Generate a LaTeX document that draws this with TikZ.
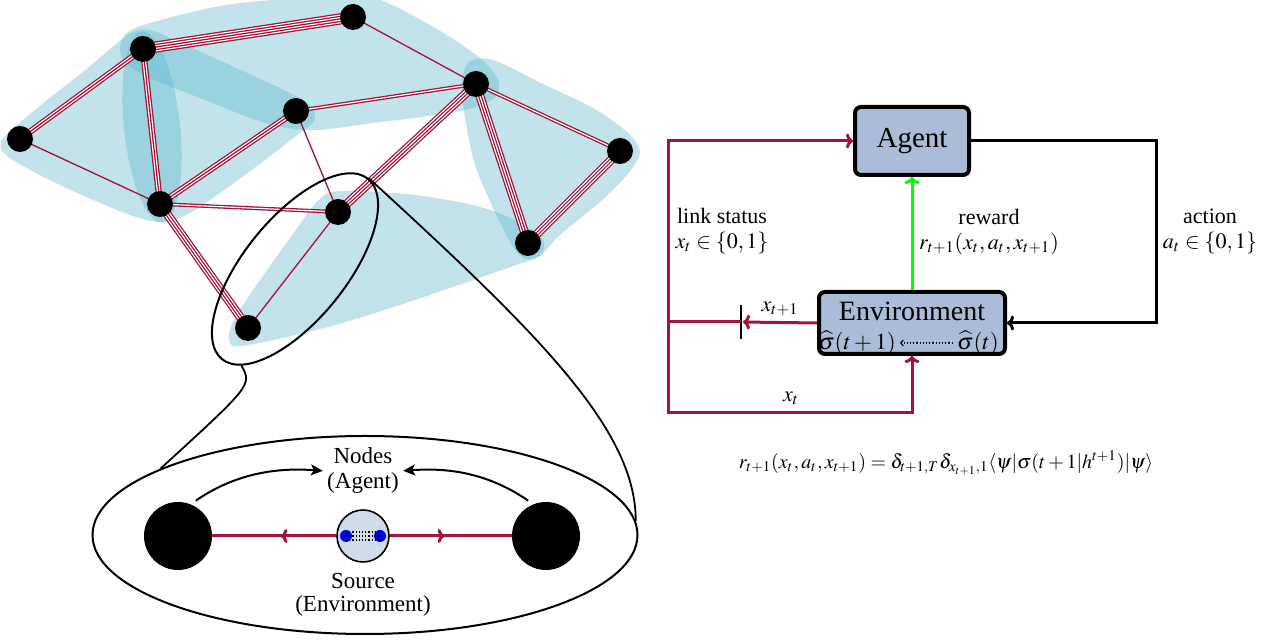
\documentclass[tikz,border=0pt]{standalone}
\usepackage{mathptmx}
\usepackage[no-math]{fontspec}
\setmainfont{Liberation Serif}
\usetikzlibrary{arrows.meta,shapes.geometric,backgrounds,decorations.markings,calc}
\definecolor{linkred}{RGB}{163,20,58}
\definecolor{hyperblue}{RGB}{86,180,202}
\definecolor{boxblue}{RGB}{170,188,215}
\definecolor{srcfill}{RGB}{208,219,234}
\def\linkr{0.65}
\def\linkg{0.6}
% n parallel red strands between two nodes
\newcommand\qlink[3]{%
  \pgfmathsetmacro\lfull{#1*\linkr+(#1-1)*\linkg}%
  \pgfmathtruncatemacro\llast{#1-1}%
  \foreach \i in {0,...,\llast} {%
    \pgfmathsetmacro\lw{\lfull-2*\linkr*ceil(\i/2)-2*\linkg*floor(\i/2)}%
    \ifodd\i \def\lcol{white}\else\def\lcol{linkred}\fi
    \draw[draw=\lcol,line width=\lw pt] (#2.center) -- (#3.center);
  }}
\tikzset{
  qnode/.style={circle,fill=black,minimum size=13pt,inner sep=0pt},
  hyper/.style={fill=hyperblue,fill opacity=0.36},
  rlbox/.style={draw,line width=2pt,rounded corners=3pt,fill=boxblue,inner sep=0pt},
  redflow/.style={color=linkred,line width=1.5pt},
  flowtip/.style={-{To[length=3.5pt,width=7.5pt]}},
  midtip/.style={postaction={decorate},decoration={markings,
      mark=at position #1 with {\arrow{To[length=3.5pt,width=7pt]}}}},
  lbl/.style={align=center,font=\fontsize{11}{12.5}\selectfont},
}

\begin{document}
\begin{tikzpicture}[x=0.5pt,y=-0.5pt]
  \useasboundingbox (0,0) rectangle (1266,640);

  % network
  \foreach \n/\x/\y in {A/143/49,B/353/17,C/476/84,D/296/111,E/20/139,
                        F/620/151,G/160/204,H/338/212,I/528/243,J/248/328}
    \node[qnode] (\n) at (\x,\y) {};

  \begin{scope}[on background layer]
    \fill[white] (0,0) rectangle (1266,640);
    \fill[hyper] plot[smooth cycle] coordinates {(120,47) (135,28) (220,6) (300,-2)
      (368,-4) (430,25) (480,58) (499,82) (492,100) (456,112) (373,123) (315,130)
      (268,124) (200,98) (150,78) (126,63)};
    \fill[hyper] plot[smooth cycle] coordinates {(2,140) (41,105) (83,72) (129,34)
      (150,30) (170,38) (232,66) (290,93) (312,107) (314,121) (300,133) (249,172)
      (195,210) (165,222) (130,215) (62,186) (10,158)};
    \fill[hyper,rotate around={6:(152,127)}] (152,127) ellipse [x radius=14pt,y radius=48pt];
    \fill[hyper] plot[smooth cycle] coordinates {(462,93) (468,63) (493,60) (543,84)
      (593,108) (627,132) (640,152) (627,175) (600,202) (560,235) (540,256)
      (525,259) (513,247) (493,208) (473,158)};
    \fill[hyper] plot[smooth cycle] coordinates {(230,343) (236,316) (290,238)
      (322,197) (349,191) (415,195) (477,206) (519,222) (543,240) (540,256)
      (519,264) (415,300) (332,326) (249,345)};
    \foreach \m/\a/\b in {5/A/B,1/B/C,3/A/E,3/A/G,1/E/G,3/G/D,2/D/C,1/D/H,
                          2/G/H,4/G/J,4/H/C,1/H/J,4/C/I,2/C/F,4/F/I}
      \qlink{\m}{\a}{\b};
  \end{scope}

  % zoom
  \node[draw,ellipse,line width=1pt,rotate=51,minimum width=116pt,
        minimum height=51pt,inner sep=0pt] (lens) at (295,269) {};
  \node[draw,ellipse,line width=1pt,minimum width=272.5pt,
        minimum height=99pt,inner sep=0pt] (zoomview) at (365,535) {};
  \draw[line width=0.9pt] (lens.190) .. controls (252,385) .. (zoomview.162);
  \draw[line width=0.9pt] (lens.east) .. controls (540,335) and (636,430) .. (zoomview.3);

  \node[circle,fill=black,minimum size=34pt,inner sep=0pt] (nl) at (178,536) {};
  \node[circle,fill=black,minimum size=34pt,inner sep=0pt] (nr) at (546,536) {};
  \node[circle,draw,fill=srcfill,line width=0.8pt,minimum size=26pt,inner sep=0pt] (src) at (363,536) {};
  \node[circle,fill=blue,minimum size=6pt,inner sep=0pt] (qa) at (346,536) {};
  \node[circle,fill=blue,minimum size=6pt,inner sep=0pt] (qb) at (380,536) {};
  \foreach \dy in {-4,0,4}
    \draw[densely dotted,line width=0.6pt] ($(qa.center)+(0,\dy)$) -- ($(qb.center)+(0,\dy)$);
  \draw[redflow,midtip=0.45] (src.west) -- (nl.east);
  \draw[redflow,midtip=0.45] (src.east) -- (nr.west);

  \node[lbl,font=\fontsize{11.5}{12.5}\selectfont,inner sep=1pt] (nodeslbl) at (363,471) {Nodes\\(Agent)};
  \node[lbl,font=\fontsize{11.5}{11.5}\selectfont,inner sep=1pt] (srclbl) at (363,595) {Source\\(Environment)};
  \draw[line width=1pt,shorten <=3pt,shorten >=1pt,-{Stealth[length=6pt,width=5.5pt,inset=1.5pt]}]
    (nl.68) .. controls (240,470) and (285,468) .. (nodeslbl.west);
  \draw[line width=1pt,shorten <=3pt,shorten >=1pt,-{Stealth[length=6pt,width=5.5pt,inset=1.5pt]}]
    (nr.112) .. controls (484,470) and (441,468) .. (nodeslbl.east);

  % agent / environment loop
  \node[rlbox,minimum width=57pt,minimum height=34pt] (agent) at (912,141)
    {\fontsize{14.5}{16}\selectfont Agent};
  \node[rlbox,minimum width=93pt,minimum height=31pt] (env) at (912,323) {};
  \node[inner sep=0pt] (envtitle) at (912,311) {\fontsize{14}{16}\selectfont Environment};
  \node[inner sep=0pt] (sigA) at (857,343) {\fontsize{11.5}{13}\selectfont $\widehat{\sigma}(t+1)$};
  \node[inner sep=0pt] (sigB) at (978,343) {\fontsize{11.5}{13}\selectfont $\widehat{\sigma}(t)$};
  \draw[densely dotted,line width=0.6pt,shorten <=2pt,shorten >=2pt,
        -{Straight Barb[length=1.2pt,width=3pt]}] (sigB) -- (sigA);

  \coordinate (gate) at (741,322);
  \coordinate (loopL) at (668,322);
  \coordinate (loopB) at (668,413);
  \coordinate (actR) at (1156,230);
  \draw[line width=0.8pt] ($(gate)+(0,-17)$) -- ($(gate)+(0,17)$);
  \draw[redflow,flowtip,shorten >=1pt] (env.west) -- (gate);
  \draw[redflow] (gate) -- (loopL);
  \draw[redflow,flowtip] (loopL) |- (agent.west);
  \draw[redflow,flowtip] (loopL) -- (loopB) -| (env.south);
  \draw[line width=1.5pt,flowtip] (agent.east) -| (actR) |- (env.east);
  \draw[line width=1.5pt,color=green,flowtip] (env.north) -- (agent.south);

  \node[lbl] (linklbl) at (722,231) {link status\\$x_t\in\{0,1\}$};
  \node[lbl] (rewardlbl) at (989,232) {reward\\$r_{t+1}(x_t,a_t,x_{t+1})$};
  \node[lbl] (actionlbl) at (1210,231) {action\\$a_t\in\{0,1\}$};
  \node[lbl] (xnext) at (780,309) {$x_{t+1}$};
  \node[lbl] (xnow) at (791,398) {$x_t$};
  \node (rewardeq) at (946,463)
    {$r_{t+1}(x_t,a_t,x_{t+1})=\delta_{t+1,T}\delta_{x_{t+1},1}\langle\psi|\sigma(t+1|h^{t+1})|\psi\rangle$};
\end{tikzpicture}
\end{document}
